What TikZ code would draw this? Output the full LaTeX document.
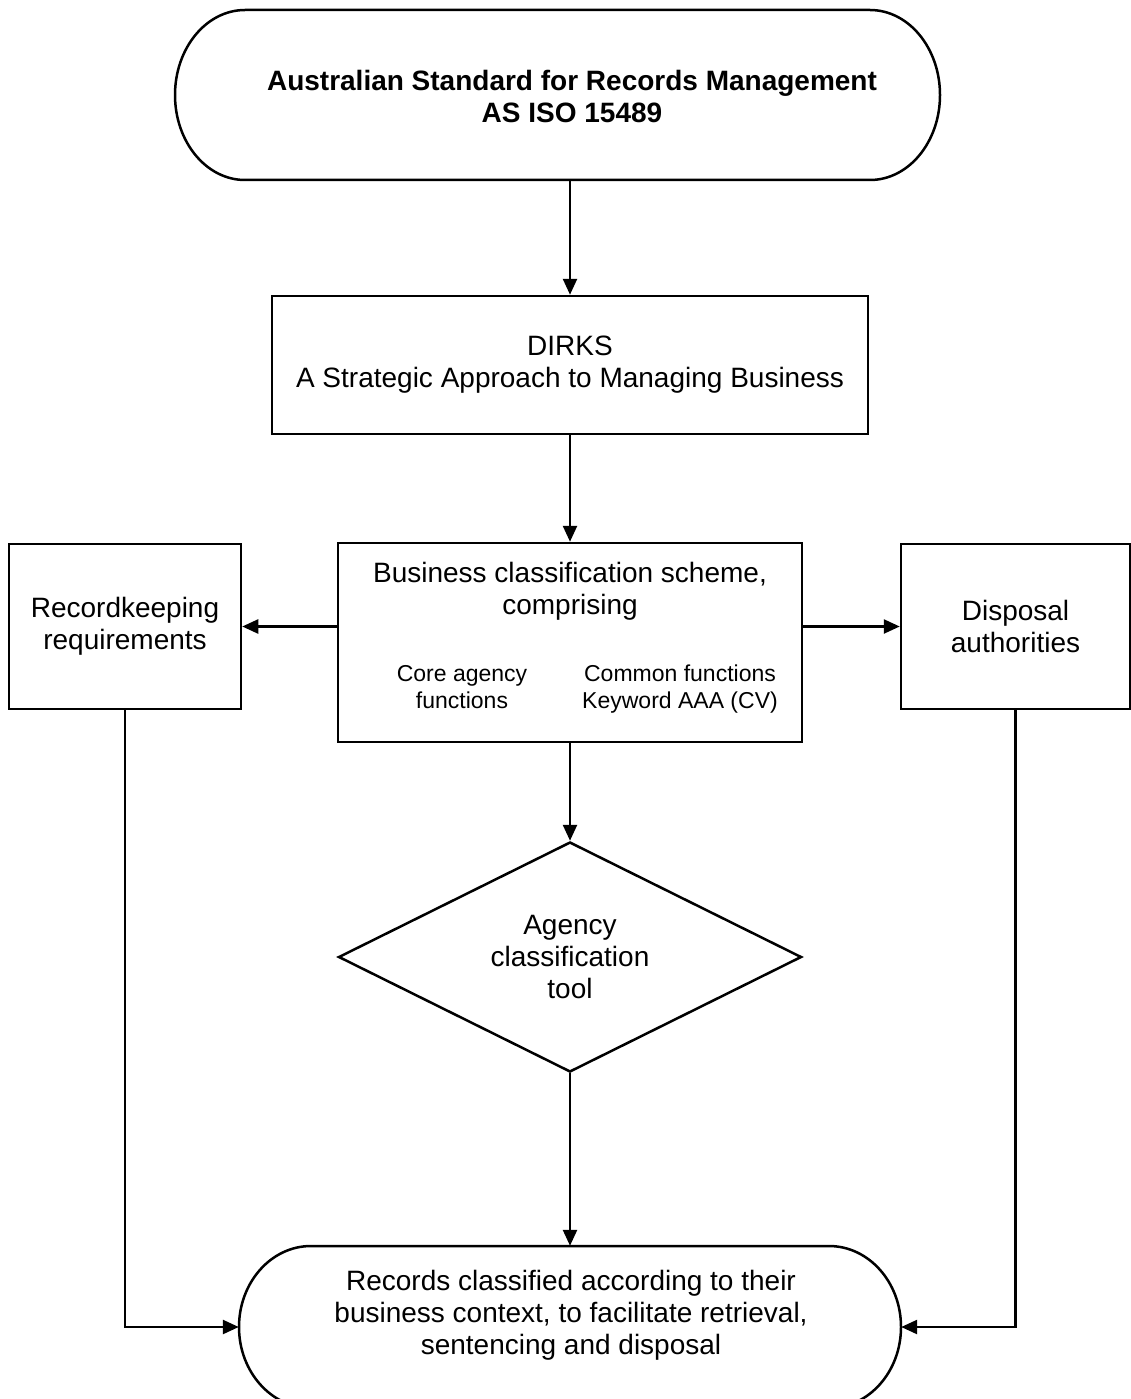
\documentclass[tikz,border=0pt]{standalone}
\usepackage{fontspec}
\setmainfont{Liberation Sans}
\usetikzlibrary{arrows.meta,shapes.geometric}
\begin{document}
\begin{tikzpicture}[x=1pt,y=-1pt,
  lw/.style={line width=2.5pt},
  arr/.style={lw,-{Triangle[length=16pt,width=14pt]}},
  bigtxt/.style={font=\fontsize{28}{32}\selectfont,align=center},
  smalltxt/.style={font=\fontsize{23}{27}\selectfont,align=center},
  boxnode/.style={draw,lw,rectangle,inner sep=0pt,bigtxt},
  ghost/.style={inner sep=0pt,bigtxt}]
\useasboundingbox (0,0) rectangle (1131,1399);
\clip (0,0) rectangle (1131,1399);
\fill[white] (0,0) rectangle (1131,1399);

% top terminator
\node[ghost,minimum width=765pt,minimum height=170pt] (top) at (557.5,95) {};
\draw[lw] (245,10) -- (870,10) arc[start angle=90,end angle=-90,x radius=70,y radius=-85]
  -- (245,180) arc[start angle=270,end angle=90,x radius=70,y radius=-85] -- cycle;
\node[bigtxt,font=\fontsize{28}{32}\selectfont\bfseries] (toptxt) at (572,96)
  {Australian Standard for Records Management\\AS ISO 15489};

% DIRKS
\node[boxnode,minimum width=596pt,minimum height=138pt] (dirks) at (570,365)
  {DIRKS\\A Strategic Approach to Managing Business};

% BCS
\node[boxnode,minimum width=464pt,minimum height=199pt] (bcs) at (570,642.5) {};
\node[bigtxt] (bcstxt) at (570,591) {Business classification scheme,\\comprising};
\node[smalltxt] (bcsL) at (462,690) {Core agency\strut\\functions\strut};
\node[smalltxt] (bcsR) at (680,690) {Common functions\strut\\Keyword AAA (CV)\strut};

% side boxes
\node[boxnode,minimum width=232pt,minimum height=165pt] (rec) at (125,626.5)
  {Recordkeeping\\requirements};
\node[boxnode,minimum width=229pt,minimum height=165pt] (disp) at (1015.5,626.5)
  {Disposal\\authorities};

% diamond
\node[draw,lw,diamond,aspect=2,inner sep=0pt,minimum width=463pt,minimum height=230pt,bigtxt] (dia) at (570,957)
  {Agency\\classification\\tool};

% bottom terminator
\node[ghost,minimum width=662pt,minimum height=162pt] (bot) at (570,1327) {};
\draw[lw] (311,1246) -- (829,1246) arc[start angle=90,end angle=-90,x radius=72,y radius=-81]
  -- (311,1408) arc[start angle=270,end angle=90,x radius=72,y radius=-81] -- cycle;
\node[bigtxt] (bottxt) at (571,1315)
  {Records classified according to their\\business context, to facilitate retrieval,\\sentencing and disposal};

% connectors
\draw[arr] (dirks.north |- top.south) -- (dirks.north);
\draw[arr] (dirks.south) -- (bcs.north);
\draw[arr] (bcs.west |- rec.east) -- (rec.east);
\draw[arr] (bcs.east |- disp.west) -- (disp.west);
\draw[arr] (bcs.south) -- (dia.north);
\draw[arr] (dia.south) -- (bot.north);
\draw[arr] (rec.south) |- (bot.west);
\draw[arr] (disp.south) |- (bot.east);
\end{tikzpicture}
\end{document}
